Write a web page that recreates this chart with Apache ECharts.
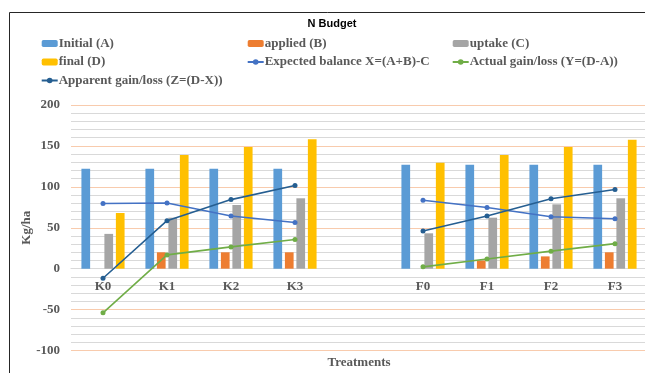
<!DOCTYPE html>
<html>
<head>
<meta charset="utf-8">
<script src="https://cdn.jsdelivr.net/npm/echarts@6/dist/echarts.min.js"></script>
<style>
  html, body { margin: 0; padding: 0; background: #fff; }
  #chart { width: 645px; height: 373px; }
</style>
</head>
<body>
<div id="chart"></div>
<script>
// Treatments (blank slot separates the K and F groups)
const categories = ['K0', 'K1', 'K2', 'K3', '', 'F0', 'F1', 'F2', 'F3'];

// Nitrogen pools, kg/ha
const initialA = [122, 122, 122, 122, null, 127, 127, 127, 127];
const appliedB = [0, 20, 20, 20, null, 0, 10, 15, 20];
const uptakeC  = [42.5, 62.3, 77.8, 86, null, 43.2, 62.3, 78.6, 86];
const finalD   = [68, 139, 148.7, 158, null, 129.5, 139, 148.7, 157.6];

// Balance lines, kg/ha
const expectedX = [79.6, 80.2, 64.3, 56.5, null, 83.6, 74.8, 63.5, 61];
const actualY   = [-54, 16.8, 26.6, 35.6, null, 2.2, 11.9, 21.4, 30.6];
const apparentZ = [-11.7, 58.6, 84.4, 101.6, null, 46, 64.4, 85.4, 96.8];

const yTicks = { min: -100, max: 200, step: 10, labelStep: 50 };

const serif = 'Liberation Serif';
const textGrey = '#595959';

const gridTop = 105, gridBottom = 22.5, chartHeight = 373;
// place the category axis on the zero line (distance of 0 above the plot bottom)
const plotHeight = chartHeight - gridTop - gridBottom;
const zeroOffset = plotHeight * (0 - yTicks.min) / (yTicks.max - yTicks.min);

const chart = echarts.init(document.getElementById('chart'), null, { renderer: 'canvas' });

const legendText = { fontFamily: serif, fontWeight: 'bold', fontSize: 13, color: textGrey, padding: [0, 0, 0, -4] };
function legendColumn(left, names) {
  return {
    left: left, top: 37, orient: 'vertical', padding: 0,
    itemWidth: 16, itemHeight: 7, itemGap: 5.5,
    textStyle: legendText,
    data: names
  };
}

function barSeries(name, data, color) {
  return {
    name: name, type: 'bar', data: data,
    barWidth: 8.7, barGap: '32%',
    itemStyle: { color: color },
    silent: true
  };
}
function lineSeries(name, data, color) {
  return {
    name: name, type: 'line', data: data,
    symbol: 'circle', symbolSize: 5, connectNulls: false,
    lineStyle: { color: color, width: 1.6 },
    itemStyle: { color: color },
    z: 5, silent: true
  };
}

const option = {
  animation: false,
  title: {
    text: 'N Budget', left: 332, top: 18, textAlign: 'center', padding: 0,
    textStyle: { fontFamily: 'Liberation Sans', fontWeight: 'bold', fontSize: 11, color: '#000' }
  },
  legend: [
    legendColumn(40.7, ['Initial (A)', 'final (D)', 'Apparent gain/loss (Z=(D-X))']),
    legendColumn(246.7, ['applied (B)', 'Expected balance X=(A+B)-C']),
    legendColumn(451.7, ['uptake (C)', 'Actual gain/loss (Y=(D-A))'])
  ],
  grid: { left: 71, right: -2, top: gridTop, bottom: gridBottom, containLabel: false, outerBoundsMode: 'none' },
  xAxis: {
    type: 'category', data: categories, position: 'bottom', offset: -zeroOffset,
    axisLine: { onZero: false, lineStyle: { color: '#d9d9d9', width: 1.2 } },
    axisTick: { show: false },
    axisLabel: { fontFamily: serif, fontWeight: 'bold', fontSize: 13, color: textGrey, margin: 11 },
    name: 'Treatments', nameLocation: 'middle', nameGap: 87, nameMoveOverlap: false,
    nameTextStyle: { fontFamily: serif, fontWeight: 'bold', fontSize: 13, color: textGrey }
  },
  yAxis: {
    type: 'value', min: yTicks.min, max: yTicks.max, interval: yTicks.step,
    axisLine: { show: false }, axisTick: { show: false },
    axisLabel: {
      fontFamily: serif, fontWeight: 'bold', fontSize: 13, color: textGrey, margin: 11,
      formatter: v => (v % yTicks.labelStep === 0 ? String(v) : '')
    },
    splitLine: { lineStyle: { color: ['#f8cbad', '#d9d9d9', '#d9d9d9', '#d9d9d9', '#d9d9d9'], width: 1.2 } },
    name: 'Kg/ha', nameLocation: 'middle', nameRotate: 90, nameGap: 38, nameMoveOverlap: false,
    nameTextStyle: { fontFamily: serif, fontWeight: 'bold', fontSize: 13, color: textGrey }
  },
  graphic: [{
    type: 'rect', shape: { x: 9.5, y: 12.5, width: 700, height: 420 },
    style: { fill: null, stroke: '#262626', lineWidth: 1 }, silent: true, z: 100
  }],
  series: [
    barSeries('Initial (A)', initialA, '#5b9bd5'),
    barSeries('applied (B)', appliedB, '#ed7d31'),
    barSeries('uptake (C)', uptakeC, '#a5a5a5'),
    barSeries('final (D)', finalD, '#ffc000'),
    lineSeries('Expected balance X=(A+B)-C', expectedX, '#4472c4'),
    lineSeries('Actual gain/loss (Y=(D-A))', actualY, '#70ad47'),
    lineSeries('Apparent gain/loss (Z=(D-X))', apparentZ, '#255e91')
  ]
};

chart.setOption(option);
</script>
</body>
</html>
